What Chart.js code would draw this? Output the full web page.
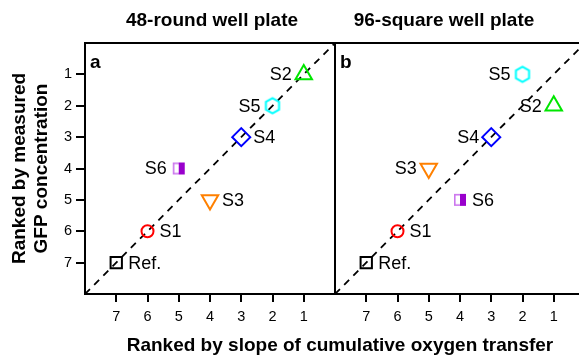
<!DOCTYPE html>
<html><head><meta charset="utf-8">
<script src="https://cdn.jsdelivr.net/npm/chart.js@4.4.1/dist/chart.umd.min.js"></script>
<style>
html,body{margin:0;padding:0;background:#fff;}
#wrap{position:relative;width:579px;height:357px;overflow:hidden;background:#fff;font-family:"Liberation Sans",Arial,sans-serif;}
canvas{position:absolute;top:0;}
.t{position:absolute;font-weight:bold;font-size:19px;line-height:19px;white-space:nowrap;text-align:center;color:#000;}
</style></head><body>
<div id="wrap">
<canvas id="ca" width="340" height="357" style="left:0;width:340px;height:357px"></canvas>
<canvas id="cb" width="262" height="357" style="left:333px;width:262px;height:357px"></canvas>
<div class="t" style="left:62px;width:300px;top:10px">48-round well plate</div>
<div class="t" style="left:294px;width:300px;top:10px">96-square well plate</div>
<div class="t" style="left:90px;width:500px;top:335px">Ranked by slope of cumulative oxygen transfer</div>
</div>
<script>
// ---------- data ----------
const strains = ['Ref.', 'S1', 'S2', 'S3', 'S4', 'S5', 'S6'];
const rankTicks = [1, 2, 3, 4, 5, 6, 7];
const oxygenRank48 = [7, 6, 1, 4, 3, 2, 5];
const gfpRank48    = [7, 6, 1, 5, 3, 2, 4];
const oxygenRank96 = [7, 6, 1, 5, 3, 2, 4];
const gfpRank96    = [7, 6, 2, 4, 3, 1, 5];
const parityX = [8, 0];
const parityY = [8, 0];
const yTitle = ['Ranked by measured', 'GFP concentration'];
const panelLetters = ['a', 'b'];

// ---------- styles ----------
const FONT = '"Liberation Sans", Arial, sans-serif';
function makeHexagon(color) {
  const c = document.createElement('canvas'); c.width = 20; c.height = 20;
  const g = c.getContext('2d'); g.strokeStyle = color; g.lineWidth = 2;
  g.beginPath();
  for (let k = 0; k < 6; k++) {
    const a = -Math.PI / 2 + k * Math.PI / 3;
    const px = 10 + 7.6 * Math.cos(a), py = 10 + 7.6 * Math.sin(a);
    k ? g.lineTo(px, py) : g.moveTo(px, py);
  }
  g.closePath(); g.stroke();
  return c;
}
function makeHalfSquare(fill, edge) {
  const c = document.createElement('canvas'); c.width = 16; c.height = 16;
  const g = c.getContext('2d');
  g.fillStyle = '#fff'; g.fillRect(2, 2, 12, 12);
  g.strokeStyle = edge; g.lineWidth = 1.6; g.strokeRect(2.8, 2.8, 6, 10.4);
  g.fillStyle = fill; g.fillRect(8, 2, 6, 12);
  return c;
}
const markers = {
  'Ref.': { pointStyle: 'rect', radius: 8, color: '#000000', rotation: 0 },
  'S1':   { pointStyle: 'circle', radius: 6, color: '#FF0000', rotation: 0 },
  'S2':   { pointStyle: 'triangle', radius: 9.5, color: '#00E600', rotation: 0 },
  'S3':   { pointStyle: 'triangle', radius: 9.5, color: '#FF8000', rotation: 180 },
  'S4':   { pointStyle: 'rectRot', radius: 9, color: '#0000FF', rotation: 0 },
  'S5':   { pointStyle: makeHexagon('#00FFFF'), radius: 10, color: '#00FFFF', rotation: 0 },
  'S6':   { pointStyle: makeHalfSquare('#9900CC', '#CC77EE'), radius: 8, color: '#9900CC', rotation: 0 }
};
const labelSide48 = ['right', 'right', 'left', 'right', 'right', 'left', 'left'];
const labelSide96 = ['right', 'right', 'left', 'left', 'left', 'left', 'right'];

// ---------- plugins ----------
const labelPlugin = {
  id: 'ptLabels',
  afterDatasetsDraw(chart, args, opts) {
    const c = chart.ctx; c.save();
    c.fillStyle = '#000'; c.textBaseline = 'middle';
    c.font = '18px ' + FONT;
    chart.data.datasets.forEach((ds, i) => {
      if (!ds.labelText) return;
      const el = chart.getDatasetMeta(i).data[0];
      const left = ds.labelSide === 'left';
      c.textAlign = left ? 'right' : 'left';
      c.fillText(ds.labelText, el.x + (left ? -12 : 12), el.y + 1);
    });
    c.font = 'bold 19px ' + FONT; c.textAlign = 'left'; c.textBaseline = 'alphabetic';
    c.fillText(opts.letter, chart.chartArea.left + 5, chart.chartArea.top + 25);
    c.restore();
  }
};
const framePlugin = {
  id: 'frame',
  afterDraw(chart, args, opts) {
    const c = chart.ctx;
    c.save();
    c.setLineDash([]);
    c.globalAlpha = 1;
    c.globalCompositeOperation = 'source-over';
    c.fillStyle = '#000';
    const { left, top, right, bottom } = chart.chartArea;
    c.fillRect(left - 1, top - 1, right - left + 2, 2);
    c.fillRect(left - 1, bottom - 1, right - left + 2, 2);
    c.fillRect(left - 1, top - 1, 2, bottom - top + 2);
    c.fillRect(right - 1, top - 1, 2, bottom - top + 2);
    // tick marks at the positions given by the library scales
    const xs = chart.scales.x, ys = chart.scales.y;
    rankTicks.forEach(v => {
      const px = Math.round(xs.getPixelForValue(v));
      c.fillRect(px - 1, bottom + 1, 2, 7);
    });
    if (opts.yTicks) {
      rankTicks.forEach(v => {
        const py = Math.round(ys.getPixelForValue(v));
        c.fillRect(left - 9, py - 1, 8, 2);
      });
    }
    c.restore();
  }
};

function buildDatasets(ox, gfp, sides) {
  const ds = strains.map((name, i) => {
    const m = markers[name];
    return {
      label: name,
      data: [{ x: ox[i], y: gfp[i] }],
      pointStyle: m.pointStyle,
      pointRadius: m.radius,
      pointRotation: m.rotation,
      borderColor: m.color,
      backgroundColor: 'rgba(0,0,0,0)',
      pointBorderWidth: 2,
      labelText: name,
      labelSide: sides[i]
    };
  });
  ds.push({
    label: 'parity',
    data: parityX.map((x, i) => ({ x: x, y: parityY[i] })),
    showLine: true,
    borderColor: '#000',
    borderWidth: 1.8,
    borderDash: [7, 6],
    pointRadius: 0
  });
  return ds;
}

function xScale() {
  return {
    type: 'linear', reverse: true, min: 0, max: 8,
    afterBuildTicks: s => { s.ticks = rankTicks.map(v => ({ value: v })); },
    afterFit: s => { s.height = 63; s.paddingLeft = 0; s.paddingRight = 0; },
    grid: { display: true, drawOnChartArea: false, drawTicks: true, tickLength: 7, lineWidth: 2, color: '#000' },
    border: { display: false },
    ticks: { color: '#000', font: { family: FONT, size: 14.5 }, padding: 7, maxRotation: 0, autoSkip: false }
  };
}
function yScale(show) {
  return {
    type: 'linear', reverse: true, min: 0, max: 8, display: show,
    afterBuildTicks: s => { s.ticks = rankTicks.map(v => ({ value: v })); },
    afterFit: s => { s.width = show ? 85 : 0; s.paddingTop = 0; s.paddingBottom = 0; },
    grid: { display: true, drawOnChartArea: false, drawTicks: true, tickLength: 8, lineWidth: 2, color: '#000' },
    border: { display: false },
    ticks: { color: '#000', font: { family: FONT, size: 14.5 }, padding: 5, autoSkip: false },
    title: { display: true, text: yTitle, color: '#000', font: { family: FONT, size: 19, weight: 'bold', lineHeight: '22px' }, padding: { top: 9, bottom: 0 } }
  };
}

function makeChart(id, ox, gfp, sides, pad, showY, letter) {
  return new Chart(document.getElementById(id), {
    type: 'scatter',
    data: { datasets: buildDatasets(ox, gfp, sides) },
    options: {
      responsive: false, animation: false, devicePixelRatio: 1,
      layout: { padding: pad, autoPadding: false },
      plugins: { legend: { display: false }, tooltip: { enabled: false }, ptLabels: { letter: letter }, frame: { yTicks: showY } },
      scales: { x: xScale(), y: yScale(showY) }
    },
    plugins: [labelPlugin, framePlugin]
  });
}

makeChart('ca', oxygenRank48, gfpRank48, labelSide48, { top: 43, right: 5, left: 0, bottom: 0 }, true, panelLetters[0]);
makeChart('cb', oxygenRank96, gfpRank96, labelSide96, { top: 43, right: 10, left: 2, bottom: 0 }, false, panelLetters[1]);
</script>
</body></html>
